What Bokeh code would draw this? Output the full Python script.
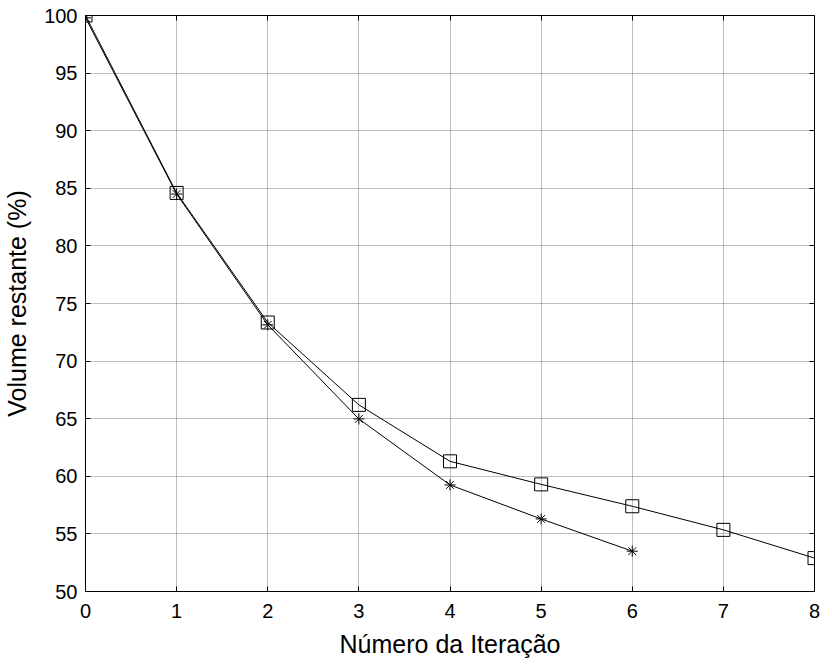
from bokeh.plotting import figure
from bokeh.models import LinearAxis, Range1d, FixedTicker
from bokeh.embed import file_html
from bokeh.resources import INLINE

# Data
iter_a = [0, 1, 2, 3, 4, 5, 6, 7, 8]
vol_a = [100.0, 84.6, 73.35, 66.2, 61.3, 59.3, 57.4, 55.35, 52.9]
iter_b = [0, 1, 2, 3, 4, 5, 6]
vol_b = [99.8, 84.5, 73.15, 64.98, 59.25, 56.3, 53.5]
x_ticks = [0, 1, 2, 3, 4, 5, 6, 7, 8]
y_ticks = [50, 55, 60, 65, 70, 75, 80, 85, 90, 95, 100]

FONT = "Liberation Sans"

p = figure(frame_width=729, frame_height=576,
           x_range=Range1d(0, 8), y_range=Range1d(50, 100),
           output_backend="svg", toolbar_location=None,
           min_border_left=84, min_border_right=11,
           min_border_top=15, min_border_bottom=66)

p.background_fill_color = "white"
p.border_fill_color = "white"
p.outline_line_color = "black"
p.outline_line_width = 1

for ax in (p.xaxis[0], p.yaxis[0]):
    ax.major_tick_in = 5
    ax.major_tick_out = 0
    ax.minor_tick_in = 0
    ax.minor_tick_out = 0
    ax.axis_line_color = "black"
    ax.major_tick_line_color = "black"
    ax.major_label_text_font = FONT
    ax.major_label_text_font_size = "20px"
    ax.major_label_text_color = "black"
    ax.axis_label_text_font = FONT
    ax.axis_label_text_font_size = "25px"
    ax.axis_label_text_font_style = "normal"
    ax.axis_label_text_color = "black"

p.xaxis.ticker = FixedTicker(ticks=x_ticks)
p.yaxis.ticker = FixedTicker(ticks=y_ticks)
p.xaxis.axis_label = "Número da Iteração"
p.yaxis.axis_label = "Volume restante (%)"
p.xaxis.major_label_standoff = 12
p.yaxis.major_label_standoff = 8
p.xaxis.axis_label_standoff = 9
p.yaxis.axis_label_standoff = 10

# Inner ticks on the top and right edges (MATLAB box style)
top_ax = LinearAxis(ticker=FixedTicker(ticks=x_ticks))
right_ax = LinearAxis(ticker=FixedTicker(ticks=y_ticks))
for ax in (top_ax, right_ax):
    ax.major_tick_in = 5
    ax.major_tick_out = 0
    ax.minor_tick_in = 0
    ax.minor_tick_out = 0
    ax.axis_line_color = None
    ax.major_tick_line_color = "black"
    ax.major_label_text_font_size = "0px"
    ax.major_label_standoff = 0
    ax.major_label_text_color = None
p.add_layout(top_ax, "above")
p.add_layout(right_ax, "right")

p.xgrid.ticker = FixedTicker(ticks=x_ticks)
p.ygrid.ticker = FixedTicker(ticks=y_ticks)
for g in (p.xgrid[0], p.ygrid[0]):
    g.grid_line_color = "#7a7a7a"
    g.grid_line_dash = "1 1"
    g.grid_line_width = 1

p.line(iter_a, vol_a, line_color="black", line_width=1)
p.scatter(iter_a, vol_a, marker="square", size=13, fill_color=None,
          line_color="black", line_width=1)
p.line(iter_b, vol_b, line_color="black", line_width=1)
p.scatter(iter_b, vol_b, marker="asterisk", size=11, line_color="black",
          line_width=1)

open("out.html", "w").write(file_html(p, INLINE))
